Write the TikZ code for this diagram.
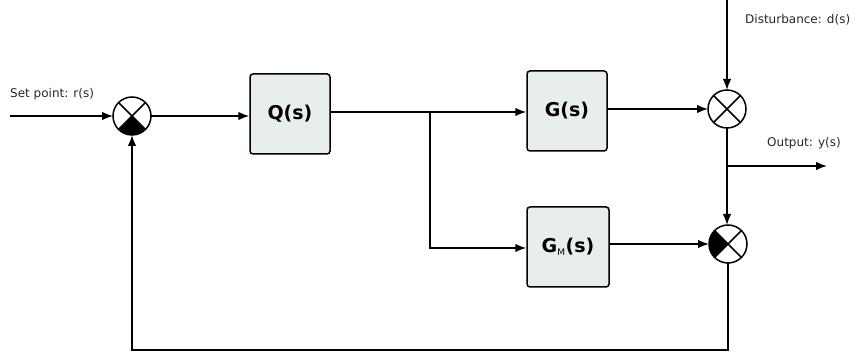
\documentclass[tikz,border=0pt]{standalone}
\usepackage{fontspec}
\setmainfont{DejaVu Sans}
\usetikzlibrary{arrows.meta}
\definecolor{boxfill}{RGB}{232,238,234}
\tikzset{
  arr/.style={line width=1.5pt,-{Latex[length=11pt,width=8.5pt]}},
  block/.style={draw,line width=1.5pt,rounded corners=3pt,fill=boxfill,minimum width=80pt,minimum height=80pt,inner sep=0pt,font=\fontsize{19}{21}\selectfont\bfseries},
  sumnode/.style={draw,circle,line width=1.5pt,minimum size=38pt,inner sep=0pt,outer sep=0pt},
  lbl/.style={font=\fontsize{12}{14}\selectfont,inner sep=0pt,anchor=west,text=black!85}
}
\newcommand{\crossin}[1]{\draw[line width=1.5pt] (#1.north west) -- (#1.south east) (#1.north east) -- (#1.south west);}
\begin{document}
\begin{tikzpicture}[x=1pt,y=1pt]
\useasboundingbox (0,0) rectangle (854,-355);
% nodes
\node[sumnode] (s1) at (132,-116) {};
\node[block] (q) at (290,-114) {Q(s)};
\node[block] (g) at (567,-111) {G(s)};
\node[block,minimum width=82pt] (gm) at (568,-247) {G\textsubscript{\fontsize{9}{10}\selectfont\mdseries M}(s)};
\node[sumnode] (s2) at (727,-109) {};
\node[sumnode] (s3) at (728,-244) {};
% fills and crosses
\fill (s1.center) -- (s1.south west) arc (225:315:19pt) -- cycle;
\crossin{s1}
\crossin{s2}
\fill (s3.center) -- (s3.north west) arc (135:225:19pt) -- cycle;
\crossin{s3}
% coordinates
\coordinate (in) at (10,-116);
\coordinate (br) at (430,-112);
\coordinate (brd) at (430,-248);
\coordinate (dtop) at (727,0);
\coordinate (ob) at (727,-166);
\coordinate (out) at (827,-166);
\coordinate (fb1) at (728,-350);
\coordinate (fb2) at (132,-350);
% labels
\node[lbl] (lr) at (10,-94) {Set point: r(s)};
\node[lbl] (ld) at (745,-20) {Disturbance: d(s)};
\node[lbl] (ly) at (767,-143) {Output: y(s)};
% connectors
\draw[arr] (in) -- (s1.west);
\draw[arr] (s1.east) -- (q.west |- s1.east);
\draw[arr] (q.east |- br) -- (g.west |- br);
\draw[arr] (br) -- (brd) -- (gm.west |- brd);
\draw[arr] (g.east |- s2.west) -- (s2.west);
\draw[arr] (dtop) -- (s2.north);
\draw[arr] (s2.south) -- (s2.south |- s3.north);
\draw[arr] (ob) -- (out);
\draw[arr] (gm.east |- s3.west) -- (s3.west);
\draw[arr] (s3.south) -- (fb1) -- (fb2) -- (s1.south);
\end{tikzpicture}
\end{document}
